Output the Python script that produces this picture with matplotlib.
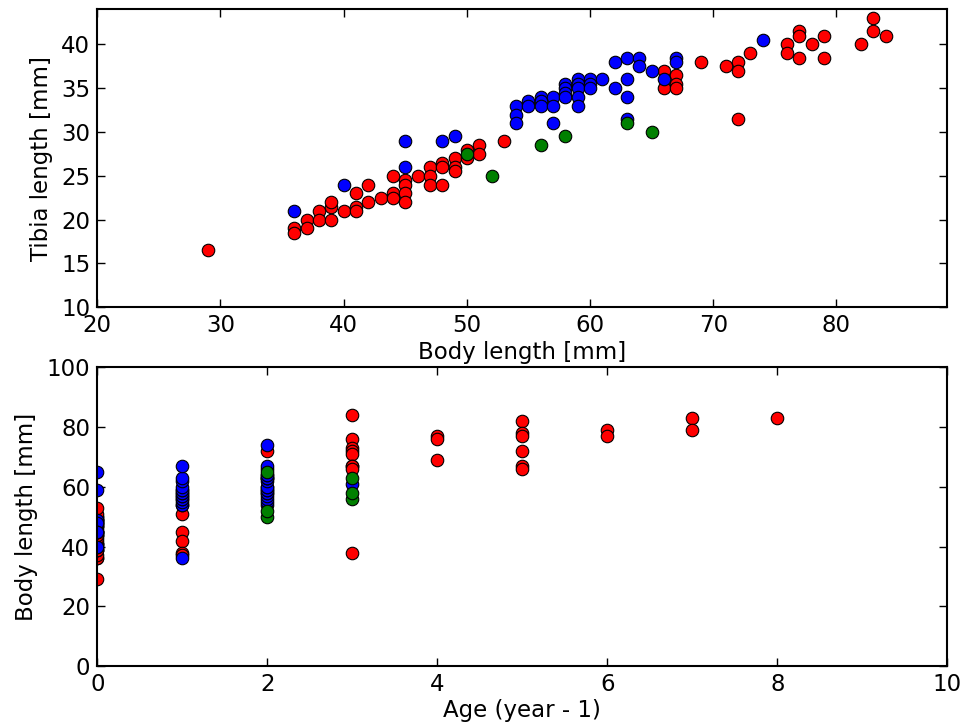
import matplotlib
matplotlib.use("Agg")
import matplotlib.pyplot as plt

# ---- Top panel: body length vs tibia length ----
red_body = [29, 36, 36, 37, 37, 38, 38, 39, 39, 39, 40, 41, 41, 41, 42, 42, 43, 44, 44, 44,
            45, 45, 45, 45, 46, 47, 47, 47, 48, 48, 48, 49, 49, 49, 50, 50, 51, 51, 53,
            66, 66, 67, 67, 67, 69, 71, 72, 72, 72, 73, 76, 76, 77, 77, 77, 78, 79, 79,
            82, 83, 83, 84]
red_tibia = [16.5, 19, 18.5, 20, 19, 21, 20, 21.5, 22, 20, 21, 23, 21.5, 21, 24, 22, 22.5, 25, 23, 22.5,
             24.5, 24, 23, 22, 25, 26, 25, 24, 26.5, 26, 24, 27, 26, 25.5, 28, 27, 28.5, 27.5, 29,
             37, 35, 36.5, 35.5, 35, 38, 37.5, 38, 37, 31.5, 39, 40, 39, 41.5, 41, 38.5, 40, 41, 38.5,
             40, 43, 41.5, 41]
blue_body = [36, 40, 45, 45, 48, 49, 54, 54, 54, 55, 55, 56, 56, 56, 57, 57, 57, 58, 58, 58, 58,
             59, 59, 59, 59, 59, 60, 60, 60, 61, 62, 62, 63, 63, 63, 63, 64, 64, 65, 66, 67, 67, 74]
blue_tibia = [21, 24, 29, 26, 29, 29.5, 33, 32, 31, 33.5, 33, 34, 33.5, 33, 34, 33, 31, 35.5, 35, 34.5, 34,
              36, 35.5, 35, 34, 33, 36, 35.5, 35, 36, 38, 35, 38.5, 36, 34, 31.5, 38.5, 37.5, 37, 36, 38.5, 38, 40.5]
green_body = [50, 52, 56, 58, 63, 65]
green_tibia = [27.5, 25, 28.5, 29.5, 31, 30]

# ---- Bottom panel: age vs body length ----
red_age = [0] * 33 + [1] * 5 + [2] + [3] * 9 + [4] * 3 + [5] * 6 + [6] * 2 + [7] * 2 + [8]
red_len = [29, 36, 36, 37, 39, 39, 39, 40, 41, 41, 41, 42, 43, 44, 44, 44, 45, 45, 45, 46, 47, 47, 47,
           48, 48, 48, 49, 49, 49, 50, 50, 51, 53,
           51, 45, 42, 38, 37,
           72,
           84, 76, 73, 72, 71, 67, 67, 66, 38,
           77, 76, 69,
           82, 78, 77, 72, 67, 66,
           79, 77,
           83, 79,
           83]
blue_age = [0] * 7 + [1] * 16 + [2] * 19 + [3]
blue_len = [65, 59, 49, 48, 45, 45, 40,
            36, 54, 54, 55, 56, 56, 57, 57, 58, 58, 59, 59, 60, 62, 63, 67,
            54, 55, 56, 57, 58, 58, 59, 59, 60, 60, 62, 63, 63, 63, 64, 64, 66, 67, 74,
            61]
green_age = [2, 2, 2, 3, 3, 3]
green_len = [50, 52, 65, 56, 58, 63]

plt.rcParams['font.family'] = ['DejaVu Sans']
FS = 16.5

fig = plt.figure(figsize=(9.79, 7.23), dpi=100, facecolor='white')
ax1 = fig.add_axes([0.0994, 0.575, 0.8682, 0.412])
ax2 = fig.add_axes([0.0994, 0.0788, 0.8682, 0.4132])

mk = dict(linestyle='none', marker='o', markersize=9, markeredgecolor='black', markeredgewidth=0.8)

ax1.plot(red_body, red_tibia, color=(1, 0, 0), markerfacecolor=(1, 0, 0), **mk)
ax1.plot(blue_body, blue_tibia, color=(0, 0, 1), markerfacecolor=(0, 0, 1), **mk)
ax1.plot(green_body, green_tibia, color=(0, 0.5, 0), markerfacecolor=(0, 0.5, 0), **mk)
ax1.set_xlim(20, 89)
ax1.set_ylim(10, 44)
ax1.set_xticks([20, 30, 40, 50, 60, 70, 80])
ax1.set_yticks([10, 15, 20, 25, 30, 35, 40])
ax1.set_xlabel('Body length [mm]', fontsize=FS, labelpad=3)
ax1.set_ylabel('Tibia length [mm]', fontsize=FS, labelpad=6)

ax2.plot(red_age, red_len, color=(1, 0, 0), markerfacecolor=(1, 0, 0), **mk)
ax2.plot(blue_age, blue_len, color=(0, 0, 1), markerfacecolor=(0, 0, 1), **mk)
ax2.plot(green_age, green_len, color=(0, 0.5, 0), markerfacecolor=(0, 0.5, 0), **mk)
ax2.set_xlim(0, 10)
ax2.set_ylim(0, 100)
ax2.set_xticks([0, 2, 4, 6, 8, 10])
ax2.set_yticks([0, 20, 40, 60, 80, 100])
ax2.set_xlabel('Age (year - 1)', fontsize=FS, labelpad=2)
ax2.set_ylabel('Body length [mm]', fontsize=FS, labelpad=6)

for ax in (ax1, ax2):
    ax.tick_params(direction='in', top=True, right=True, length=6, width=1,
                   labelsize=FS, pad=5)
    for s in ax.spines.values():
        s.set_linewidth(1.5)

fig.savefig('out.png', dpi=100, facecolor='white')
